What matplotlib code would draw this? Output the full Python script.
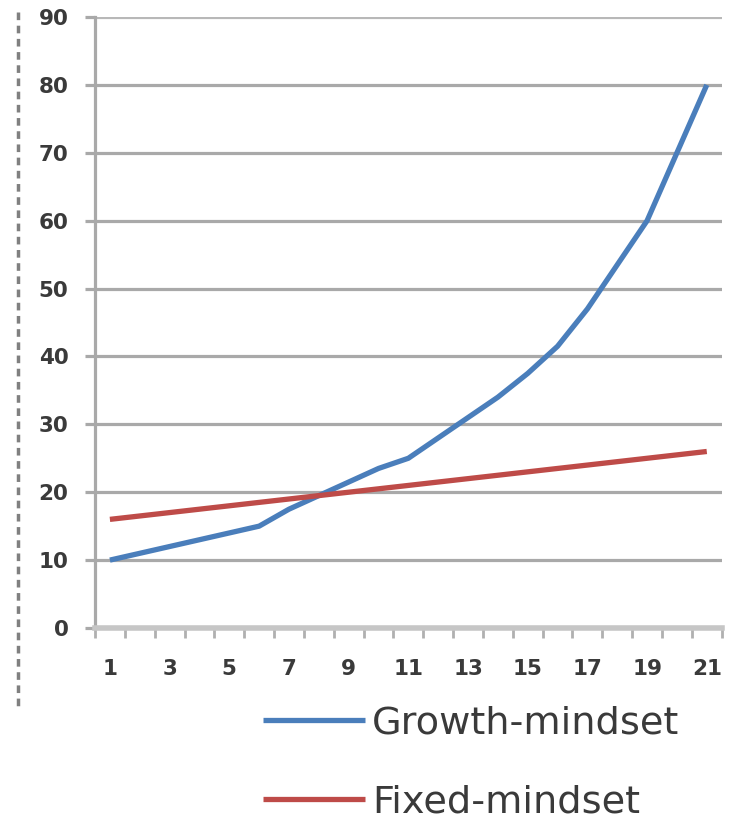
import numpy as np
import matplotlib.pyplot as plt
from matplotlib.lines import Line2D

# days / sessions on the x axis
x = np.arange(1, 22)

growth = [10, 11, 12, 13, 14, 15, 17.5, 19.5, 21.5, 23.5, 25,
          28, 31, 34, 37.5, 41.5, 47, 53.5, 60, 70, 80]
fixed = [16, 16.5, 17, 17.5, 18, 18.5, 19, 19.5, 20, 20.5, 21,
         21.5, 22, 22.5, 23, 23.5, 24, 24.5, 25, 25.5, 26]

x_labels = [str(i) for i in range(1, 22, 2)]
y_ticks = list(range(0, 91, 10))

fig = plt.figure(figsize=(7.29, 8.25), dpi=100)
ax = fig.add_axes([0.1303, 0.2388, 0.8597, 0.7406])

grid_col = "#a9a9a9"
text_col = "#3a3a3a"

# horizontal gridlines
for v in y_ticks[1:]:
    ax.axhline(v, color="#b8b8b8" if v == 90 else grid_col, lw=2.3, zorder=1)

ax.plot(x, growth, color="#4a7ebb", lw=3.8, label="Growth-mindset",
        solid_capstyle="butt", zorder=3)
ax.plot(x, fixed, color="#be4b48", lw=3.8, label="Fixed-mindset",
        solid_capstyle="butt", zorder=3)

ax.set_xlim(0.5, 21.5)
ax.set_ylim(0, 90)

for s in ["top", "right"]:
    ax.spines[s].set_visible(False)
ax.spines["left"].set_color(grid_col)
ax.spines["left"].set_linewidth(2.3)
ax.spines["bottom"].set_color("#c6c6c6")
ax.spines["bottom"].set_linewidth(4)

ax.set_yticks(y_ticks)
ax.set_yticklabels([str(v) for v in y_ticks], fontweight="bold")
ax.tick_params(axis="y", length=7, width=2.3, color=grid_col, pad=12,
               labelsize=15.5, labelcolor=text_col)

ax.set_xticks(range(1, 22, 2))
ax.set_xticklabels(x_labels, fontweight="bold")
ax.set_xticks(np.arange(0.5, 22, 1), minor=True)
ax.tick_params(axis="x", which="major", length=0, pad=22,
               labelsize=15.5, labelcolor=text_col)
ax.tick_params(axis="x", which="minor", length=7, width=2, color="#b0b0b0")

# dotted divider at the left edge
fig.add_artist(Line2D([18 / 729, 18 / 729], [1 - 12 / 825, 1 - 706 / 825],
                      color="#808080", lw=2.5, linestyle=(0, (2.2, 1.6))))

fig.legend(loc="center left", bbox_to_anchor=(0.335, 0.075),
           frameon=False, fontsize=27.5, handlelength=2.65,
           handletextpad=0.2, labelspacing=1.12, borderpad=0,
           labelcolor=text_col)

fig.savefig("out.png", dpi=100)
